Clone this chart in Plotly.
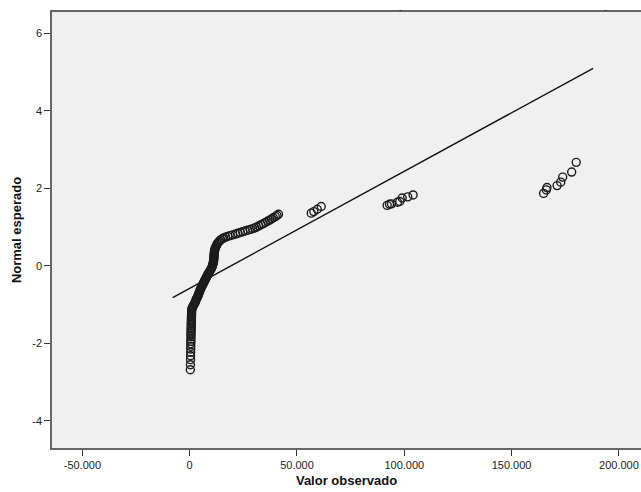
import plotly.graph_objects as go

valor_observado = [
    300, 350, 400, 420, 450, 480, 500, 520, 550, 570, 600, 620, 640, 660, 680, 700,
    720, 740, 760, 780, 800, 820, 840, 860, 880, 900, 930, 960, 1100, 1300, 1600,
    1900, 2200, 2500, 2700, 2900, 3100, 3400, 3700, 3900, 4100, 4300, 4500, 4700,
    4900, 5150, 5400, 5650, 5950, 6200, 6500, 6750, 7000, 7300, 7600, 7850, 8100,
    8400, 8700, 9050, 9350, 9700, 10000, 10250, 10500, 10650, 10800, 10950, 11050,
    11150, 11200, 11250, 11300, 11350, 11400, 11450, 11500, 11550, 11620, 11750,
    11950, 12200, 12450, 12700, 12950, 13400, 13900, 14400, 15200, 15850, 16700,
    17700, 18800, 20000, 21400, 22500, 23600, 24700, 25800, 27000, 28300, 29400,
    30300, 31100, 32200, 33300, 34300, 35300, 36300, 37200, 38100, 39000, 39900,
    40700, 41400,
    56650, 57860, 59450, 61300,
    92030, 93100, 94030, 96800, 97900, 99010, 101600, 104100,
    164900, 166200, 166500, 171200, 172900, 173800, 178000, 180100,
]
normal_esperado = [
    -2.68, -2.55, -2.42, -2.32, -2.23, -2.15, -2.08, -2.01, -1.95, -1.89, -1.83,
    -1.78, -1.73, -1.68, -1.63, -1.59, -1.54, -1.50, -1.46, -1.42, -1.38, -1.34,
    -1.30, -1.27, -1.23, -1.20, -1.16, -1.13, -1.10, -1.07, -1.04, -1.01, -0.98,
    -0.95, -0.92, -0.89, -0.86, -0.83, -0.80, -0.77, -0.74, -0.71, -0.68, -0.65,
    -0.62, -0.59, -0.56, -0.53, -0.50, -0.47, -0.44, -0.41, -0.38, -0.35, -0.32,
    -0.29, -0.26, -0.23, -0.20, -0.17, -0.14, -0.11, -0.08, -0.05, -0.02, 0.01,
    0.04, 0.07, 0.10, 0.13, 0.16, 0.19, 0.22, 0.25, 0.28, 0.31, 0.34, 0.37, 0.40,
    0.43, 0.46, 0.49, 0.52, 0.55, 0.58, 0.61, 0.64, 0.67, 0.70, 0.72, 0.74, 0.76,
    0.78, 0.80, 0.82, 0.84, 0.86, 0.88, 0.90, 0.92, 0.94, 0.96, 0.98, 1.00, 1.03,
    1.06, 1.09, 1.12, 1.15, 1.18, 1.21, 1.24, 1.27, 1.30, 1.33,
    1.36, 1.40, 1.46, 1.53,
    1.56, 1.59, 1.60, 1.64, 1.66, 1.75, 1.78, 1.83,
    1.87, 1.96, 2.02, 2.07, 2.16, 2.29, 2.42, 2.67,
]

# Reference line: y = (x - mean) / sd
media = 19250
desvio = 33100
linha_x = [-7900, 188000]

x_tickvals = [-50000, 0, 50000, 100000, 150000, 200000]
x_ticktext = ["-50.000", "0", "50.000", "100.000", "150.000", "200.000"]
y_tickvals = [-4, -2, 0, 2, 4, 6]
y_ticktext = ["-4", "-2", "0", "2", "4", "6"]

linha_y = [(v - media) / desvio for v in linha_x]

fig = go.Figure()
fig.add_trace(go.Scatter(
    x=linha_x, y=linha_y, mode="lines",
    line=dict(color="#111111", width=1.4),
    hoverinfo="skip", showlegend=False,
))
fig.add_trace(go.Scatter(
    x=valor_observado, y=normal_esperado, mode="markers",
    marker=dict(symbol="circle-open", size=8, color="#1c1c1c",
                line=dict(width=1.4, color="#1c1c1c")),
    showlegend=False,
))

# small clipped title remnants at the top of the reference
for xp in [0.591, 0.946]:
    fig.add_annotation(x=xp, y=1.0, xref="paper", yref="paper", yshift=9,
                       text="-", showarrow=False, font=dict(size=9, color="#222"))

fig.update_layout(
    width=641, height=492,
    margin=dict(l=52, r=0, t=12, b=44),
    paper_bgcolor="white",
    plot_bgcolor="#F0F0F0",
    font=dict(family="Liberation Sans, Arial, sans-serif", size=11, color="#222"),
)
fig.update_xaxes(
    range=[-64150, 210300],
    tickvals=x_tickvals, ticktext=x_ticktext,
    ticks="outside", ticklen=6, tickwidth=1, tickcolor="#333",
    showgrid=False, zeroline=False,
    showline=True, linecolor="#666", linewidth=1.5, mirror=True,
    title=dict(text="<b>Valor observado</b>", font=dict(size=13, color="#111"), standoff=6),
    tickfont=dict(size=11, color="#222"),
)
fig.update_yaxes(
    range=[-4.7, 6.55],
    tickvals=y_tickvals, ticktext=y_ticktext,
    ticks="outside", ticklen=6, tickwidth=1, tickcolor="#333",
    showgrid=False, zeroline=False,
    showline=True, linecolor="#666", linewidth=1.5, mirror=False,
    title=dict(text="<b>Normal esperado</b>", font=dict(size=13, color="#111"), standoff=8),
    tickfont=dict(size=11, color="#222"),
)

fig.write_html("out.html")
